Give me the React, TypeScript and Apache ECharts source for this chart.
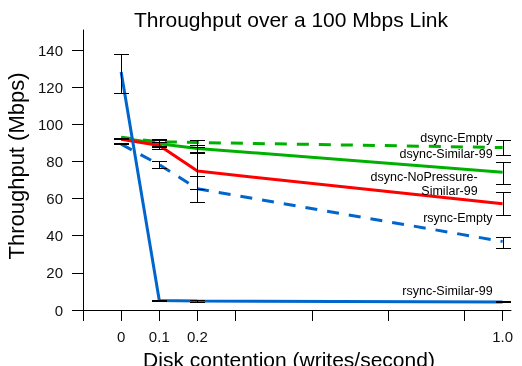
import React, { useEffect, useRef } from 'react';
import * as echarts from 'echarts';

// x positions (writes/second)
const xValues = [0, 0.1, 0.2, 1.0];
const xTickValues = [-0.1, 0, 0.1, 0.2, 0.3, 0.5, 0.7, 0.9, 1.0];
const xLabelValues = [0, 0.1, 0.2, 1.0];
const yTickValues = [0, 20, 40, 60, 80, 100, 120, 140];

// series means (Mbps)
const dsyncEmpty = [93.0, 90.6, 90.2, 87.5];
const dsyncSimilar = [92.6, 89.5, 87.0, 74.2];
const dsyncNoPressure = [92.0, 88.6, 74.8, 57.2];
const rsyncEmpty = [89.3, 78.3, 65.3, 36.9];
const rsyncSimilar = [128.2, 5.1, 4.8, 4.3];

// error bar ranges [low, high]
const dsyncEmptyErr = [[92.0, 92.4], [88.5, 92.2], [87.9, 91.4], [83.4, 91.4]];
const dsyncSimilarErr = [[92.0, 92.4], [87.7, 91.3], [85.2, 88.7], [68.1, 79.8]];
const dsyncNoPressureErr = [[92.0, 92.4], [86.6, 90.6], [65.1, 84.3], [51.3, 63.3]];
const rsyncEmptyErr = [[89.4, 89.8], [76.7, 80.0], [57.9, 72.3], [33.6, 39.4]];
const rsyncSimilarErr = [[117.0, 138.0], [4.6, 5.6], [4.3, 5.2], [4.2, 4.6]];

const names = ['dsync-Empty', 'dsync-Similar-99', 'dsync-NoPressure-\nSimilar-99', 'rsync-Empty', 'rsync-Similar-99'];

const BLUE = '#0066cc';
const RED = '#ff0000';
const GREEN = '#00b000';
const FONT = 'Liberation Sans, Arial, Helvetica, sans-serif';

export default function App() {
  const ref = useRef<HTMLDivElement>(null);
  useEffect(() => {
    if (!ref.current) return;
    const chart = echarts.init(ref.current, undefined, { renderer: 'svg' });

    const seriesDefs = [
      { name: names[0], data: dsyncEmpty, err: dsyncEmptyErr, color: GREEN, dashed: true, dx: -10, dy: -10 },
      { name: names[1], data: dsyncSimilar, err: dsyncSimilarErr, color: GREEN, dashed: false, dx: -10, dy: -18 },
      { name: names[2], data: dsyncNoPressure, err: dsyncNoPressureErr, color: RED, dashed: false, dx: -25, dy: -20 },
      { name: names[3], data: rsyncEmpty, err: rsyncEmptyErr, color: BLUE, dashed: true, dx: -10, dy: -23 },
      { name: names[4], data: rsyncSimilar, err: rsyncSimilarErr, color: BLUE, dashed: false, dx: -10, dy: -11 },
    ];

    const lineSeries = seriesDefs.map((s, i) => ({
      type: 'line',
      name: s.name,
      data: s.data.map((v, j) => [xValues[j], v]),
      showSymbol: false,
      symbol: 'none',
      lineStyle: { color: s.color, width: 3, type: s.dashed ? [12, 10] : 'solid', cap: 'butt' },
      z: 2 + i,
      silent: true,
    }));

    const errData: number[][] = [];
    seriesDefs.forEach((s) => s.err.forEach((e, j) => errData.push([xValues[j], e[0], e[1]])));

    const errSeries = {
      type: 'custom',
      z: 20,
      silent: true,
      data: errData,
      encode: { x: 0, y: [1, 2] },
      renderItem: (params: any, api: any) => {
        const x = api.value(0);
        const lo = api.coord([x, api.value(1)]);
        const hi = api.coord([x, api.value(2)]);
        const cx = Math.round(lo[0]) + 0.5;
        const yl = Math.round(lo[1]) + 0.5;
        const yh = Math.round(hi[1]) + 0.5;
        const hw = 7.5;
        const style = { stroke: '#000', lineWidth: 1, fill: null };
        return {
          type: 'group',
          children: [
            { type: 'line', shape: { x1: cx, y1: yl, x2: cx, y2: yh }, style },
            { type: 'line', shape: { x1: cx - hw, y1: yl, x2: cx + hw, y2: yl }, style },
            { type: 'line', shape: { x1: cx - hw, y1: yh, x2: cx + hw, y2: yh }, style },
          ],
        };
      },
    };

    const axisLineStyle = { color: '#000', width: 1 };

    chart.setOption({
      animation: false,
      title: {
        text: 'Throughput over a 100 Mbps Link',
        left: 134,
        top: 9,
        padding: 0,
        textStyle: { fontFamily: FONT, fontSize: 21, fontWeight: 'normal', color: '#000' },
      },
      grid: { left: 83, right: 11, top: 30, bottom: 56, containLabel: false, outerBoundsMode: 'none' },
      xAxis: {
        type: 'value',
        min: -0.1,
        max: 1.022,
        name: 'Disk contention (writes/second)',
        nameLocation: 'middle',
        nameGap: 35,
        nameTextStyle: { fontFamily: FONT, fontSize: 21, color: '#000', padding: [0, 16, 0, 0] },
        axisLine: { show: true, onZero: true, lineStyle: axisLineStyle },
        axisTick: { show: true, inside: false, length: 11, customValues: xTickValues, lineStyle: { color: '#000' } },
        axisLabel: {
          show: true,
          customValues: xLabelValues,
          margin: 19,
          fontFamily: FONT,
          fontSize: 15,
          color: '#111',
          formatter: (v: number) => (v === 1 ? '1.0' : String(v)),
        },
        splitLine: { show: false },
      },
      yAxis: {
        type: 'value',
        min: 0,
        max: 150.8,
        name: 'Throughput (Mbps)',
        nameLocation: 'middle',
        nameRotate: 90,
        nameGap: 48,
        nameTextStyle: { fontFamily: FONT, fontSize: 22, color: '#000', padding: [0, 0, 0, 8] },
        axisLine: { show: true, onZero: false, lineStyle: axisLineStyle },
        axisTick: { show: true, inside: false, length: 11, customValues: yTickValues, lineStyle: { color: '#000' } },
        axisLabel: {
          show: true,
          customValues: yTickValues,
          margin: 20,
          fontFamily: FONT,
          fontSize: 15,
          color: '#111',
        },
        splitLine: { show: false },
      },
      series: [...lineSeries, errSeries],
    });

    const last = xValues.length - 1;
    const graphics = seriesDefs.map((s) => {
      const p = chart.convertToPixel({ gridIndex: 0 }, [xValues[last], s.data[last]]) as number[];
      return {
        type: 'text',
        x: p[0] + s.dx,
        y: p[1] + s.dy,
        z: 30,
        style: {
          text: s.name,
          align: 'right',
          verticalAlign: 'middle',
          fontFamily: FONT,
          fontSize: 12.5,
          lineHeight: 13.5,
          fill: '#000',
        },
      };
    });
    chart.setOption({ graphic: graphics });

    return () => chart.dispose();
  }, []);

  return <div ref={ref} style={{ position: 'fixed', left: 0, top: 0, width: 522, height: 366 }} />;
}
